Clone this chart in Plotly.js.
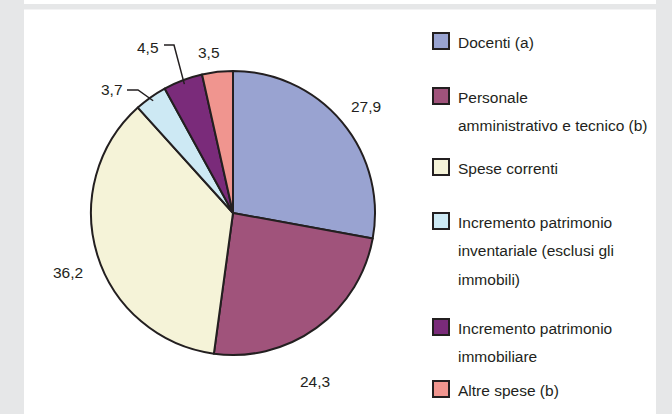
<!DOCTYPE html>
<html>
<head>
<meta charset="utf-8">
<script src="https://cdn.plot.ly/plotly-3.0.1.min.js"></script>
<style>html,body{margin:0;padding:0;background:#e6e7e8;}#chart{width:672px;height:414px;}</style>
</head>
<body>
<div id="chart"></div>
<script>
// ---- data ----
const categories = ["Docenti (a)", "Personale amministrativo e tecnico (b)", "Spese correnti",
  "Incremento patrimonio inventariale (esclusi gli immobili)", "Incremento patrimonio immobiliare", "Altre spese (b)"];
const legendLines = [
  ["Docenti (a)"],
  ["Personale", "amministrativo e tecnico (b)"],
  ["Spese correnti"],
  ["Incremento patrimonio", "inventariale (esclusi gli", "immobili)"],
  ["Incremento patrimonio", "immobiliare"],
  ["Altre spese (b)"]
];
const values = [27.9, 24.3, 36.2, 3.7, 4.5, 3.5];
const valueLabels = values.map(v => v.toFixed(1).replace('.', ','));

// ---- styles / layout ----
const colors = ["#99a3d1", "#a0537b", "#f5f3d8", "#cde9f4", "#7a2b7a", "#f0958f"];
const W = 672, H = 414;
const FONT = "'Liberation Sans', Arial, sans-serif";
const FS = 15.5;
const cx = 233, cy = 213, R = 142;
const px = x => x / W, py = y => 1 - y / H;
const labelPos = [[366,106],[315,381],[68,272],[112,90],[148,47],[209,52]];
const leaderStart = {3: [[127,90],[138,90]], 4: [[164,45],[174,45]]};
const legendY = [42, 97, 168, 222, 328, 390];
const lineGap = 28.5;

const total = values.reduce((a,b)=>a+b,0);
let cum = 0;
const mids = values.map(v => { const m = (cum + v/2) / total * 2 * Math.PI; cum += v; return m; });

const shapes = [
  {type:'rect', xref:'paper', yref:'paper', x0:px(24), x1:px(656), y0:py(414), y1:py(9.5), fillcolor:'#ffffff', line:{width:0}, layer:'below'},
  {type:'rect', xref:'paper', yref:'paper', x0:px(24), x1:px(656), y0:py(4), y1:py(0), fillcolor:'#ffffff', line:{width:0}, layer:'below'}
];
const annotations = [];

values.forEach((v, i) => {
  annotations.push({xref:'paper', yref:'paper', x:px(labelPos[i][0]), y:py(labelPos[i][1]),
    text:valueLabels[i], showarrow:false, xanchor:'center', yanchor:'middle',
    font:{family:FONT, size:FS, color:'#231f20'}});
  if (leaderStart[i]) {
    const m = mids[i];
    const ex = cx + 0.97 * R * Math.sin(m), ey = cy - 0.97 * R * Math.cos(m);
    const pts = leaderStart[i].concat([[ex, ey]]);
    const path = pts.map((p, k) => (k ? 'L' : 'M') + px(p[0]) + ',' + py(p[1])).join(' ');
    shapes.push({type:'path', xref:'paper', yref:'paper', path:path, line:{color:'#231f20', width:1.5}});
  }
});

legendLines.forEach((lines, i) => {
  const y0 = legendY[i];
  shapes.push({type:'rect', xref:'paper', yref:'paper', x0:px(433), x1:px(449), y0:py(y0+7), y1:py(y0-9),
    fillcolor:colors[i], line:{color:'#231f20', width:2}});
  lines.forEach((t, k) => {
    annotations.push({xref:'paper', yref:'paper', x:px(456), y:py(y0 + k*lineGap), text:t,
      showarrow:false, xanchor:'left', yanchor:'middle', font:{family:FONT, size:FS, color:'#231f20'}});
  });
});

const trace = {
  type:'pie', values:values, labels:categories, sort:false, direction:'clockwise', rotation:0,
  textinfo:'none', hoverinfo:'label+value',
  marker:{colors:colors, line:{color:'#231f20', width:2}},
  domain:{x:[px(cx-R), px(cx+R)], y:[py(cy+R), py(cy-R)]}
};

Plotly.newPlot('chart', [trace], {
  width:W, height:H, margin:{l:0,r:0,t:0,b:0}, showlegend:false,
  paper_bgcolor:'#e6e7e8', plot_bgcolor:'#ffffff',
  shapes:shapes, annotations:annotations
}, {displayModeBar:false, staticPlot:true});
</script>
</body>
</html>
